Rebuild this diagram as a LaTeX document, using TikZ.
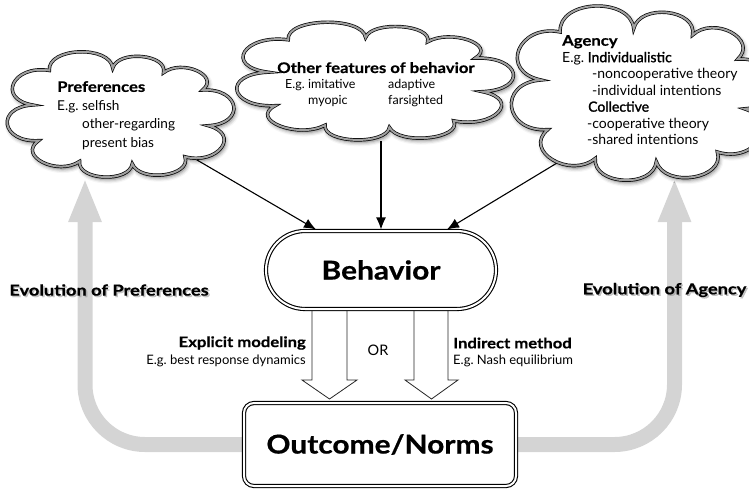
\documentclass[tikz,border=0pt]{standalone}
\usepackage{fontspec}
\setmainfont{Lato}
\newfontfamily\heavyfont[FakeStretch=1.15,FakeBold=0.6]{Lato}
\newfontfamily\wideheavy[FakeStretch=1.2,FakeBold=0.6]{Lato}
\usetikzlibrary{shapes.geometric,arrows.meta,shadows,shadows.blur,calc,backgrounds}
\definecolor{evogray}{RGB}{212,212,212}
\definecolor{rimgray}{RGB}{160,160,160}
\newcommand{\semib}[1]{{\addfontfeature{FakeBold=1.6}#1}}
\begin{document}
\begin{tikzpicture}[x=1pt,y=-1pt,
  font=\fontsize{12.5}{16}\selectfont,
  txt/.style={inner sep=0pt, align=left, anchor=north west},
  cloudarea/.style={ellipse, inner sep=0pt},
  cloudline/.style={draw=black, line width=0.7pt, double=rimgray, double distance=2pt, fill=white,
    blur shadow={shadow xshift=1.5pt, shadow yshift=-2.5pt, shadow blur radius=4pt, shadow opacity=55}},
  puff/.style={bend left=90, looseness=1.6},
  cloudpath/.style={insert path={
    (-0.75,-0.80) to[puff] (-0.10,-0.84)
    to[puff] (0.42,-0.76)
    to[puff] (0.82,-0.46)
    to[puff] (0.88,0.16)
    to[puff] (0.64,0.70)
    to[puff] (0.10,0.82)
    to[puff] (-0.44,0.78)
    to[puff] (-0.86,0.42)
    to[puff] (-0.92,-0.20)
    to[puff] (-0.75,-0.80) -- cycle}},
  feed/.style={-{Latex[length=12pt,width=10pt]}, line width=1.1pt},
  evo/.style={line width=15pt, draw=evogray, rounded corners=60pt, -{Triangle[width=30pt,length=44pt]}},
  blockarrow/.style={draw=black!85, line width=0.8pt, fill=white},
  evolbl/.style={font=\wideheavy\bfseries\fontsize{15.2}{18}\selectfont, inner sep=0pt},
  headb/.style={font=\heavyfont\bfseries\fontsize{14.5}{17}\selectfont},
  bigb/.style={font=\heavyfont\bfseries\fontsize{26}{30}\selectfont},
]
\useasboundingbox (0,0) rectangle (749,488);

% cloud areas (named) and their outlines
\node[cloudarea, minimum width=195pt, minimum height=115pt] (pref) at (122.5,116.5) {};
\node[cloudarea, minimum width=265pt, minimum height=116pt] (other) at (377.5,83) {};
\node[cloudarea, minimum width=224pt, minimum height=170pt] (agency) at (645,96) {};

\begin{scope}[shift={(pref.center)}, xscale=97.5, yscale=57.5]
  \path[cloudline, cloudpath];
\end{scope}
\begin{scope}[shift={(other.center)}, xscale=119, yscale=54]
  \path[cloudline, cloudpath];
\end{scope}
\begin{scope}[shift={(agency.center)}, xscale=113, yscale=80]
  \path[cloudline, cloudpath];
\end{scope}

\node[txt, font=\fontsize{13.6}{18.5}\selectfont] (preftext) at (57,81)
  {{\heavyfont\bfseries\fontsize{14.5}{18.5}\selectfont Preferences}\\
   E.g.\ selfish\\
   \hspace*{25pt}other-regarding\\
   \hspace*{25pt}present bias};

\node[txt, font=\fontsize{12.5}{16}\selectfont] (othertext) at (277,62)
  {{\heavyfont\bfseries\fontsize{14.5}{16}\selectfont Other features of behavior}\\
   \hspace*{8pt}\makebox[103pt][l]{E.g.\ imitative}adaptive\\
   \hspace*{31pt}\makebox[80pt][l]{myopic}farsighted};

\node[txt, font=\fontsize{14}{16.5}\selectfont] (agencytext) at (562,35)
  {{\heavyfont\bfseries\fontsize{14.5}{16.5}\selectfont Agency}\\
   E.g.\ \semib{Individualistic}\\
   \hspace*{30pt}-noncooperative theory\\
   \hspace*{30pt}-individual intentions\\
   \hspace*{26pt}\semib{Collective}\\
   \hspace*{25pt}-cooperative theory\\
   \hspace*{25pt}-shared intentions};

% central boxes
\node[draw, double, double distance=2pt, line width=1.1pt, rounded corners=39pt,
  minimum width=230pt, minimum height=78pt, fill=white, bigb] (beh) at (381,270) {Behavior};
\node[draw, double, double distance=2pt, line width=1.1pt, rounded corners=10pt,
  minimum width=272pt, minimum height=83pt, fill=white, bigb] (out) at (380,444.5) {Outcome/Norms};

% labels
\node[headb, anchor=east, inner sep=0pt] (explicit) at (306,343) {Explicit modeling};
\node[anchor=east, inner sep=0pt, font=\fontsize{13}{15}\selectfont] (bestresp) at (306,361) {E.g.\ best response dynamics};
\node[inner sep=0pt, font=\fontsize{14.5}{16}\selectfont] (ortext) at (378,350) {OR};
\node[headb, anchor=west, inner sep=0pt] (indirect) at (453,343) {Indirect method};
\node[anchor=west, inner sep=0pt, font=\fontsize{13}{15}\selectfont] (nash) at (453,361) {E.g.\ Nash equilibrium};

\coordinate (preftip) at (85,178);
\coordinate (agtip) at (674.5,178);

\begin{scope}[on background layer]
  \draw[evo] (out.west) -- (85,444.5) -- (preftip);
  \draw[evo] (out.east) -- (674.5,444.5) -- (agtip);
  \draw[blockarrow] (312,309) -- (312,380) -- (302,380) -- (329.5,399) -- (357,380) -- (347,380) -- (347,309);
  \draw[blockarrow] (414,309) -- (414,380) -- (405,380) -- (431.5,399) -- (458,380) -- (448,380) -- (448,309);
  \draw[feed] (pref) -- ($(beh.north)+(-65,-1)$);
  \draw[feed] (other.south -| beh.north) -- ($(beh.north)+(0,-1)$);
  \draw[feed] (agency.-142) -- ($(beh.north)+(66,-1)$);
\end{scope}

\node[evolbl, text=black!45, opacity=0.5] at (110.5,291.5) {Evolution of Preferences};
\node[evolbl] (evopref) at (109,290) {Evolution of Preferences};
\node[evolbl, text=black!45, opacity=0.5] at (666,291.5) {Evolution of Agency};
\node[evolbl] (evoag) at (664.5,290) {Evolution of Agency};
\end{tikzpicture}
\end{document}
